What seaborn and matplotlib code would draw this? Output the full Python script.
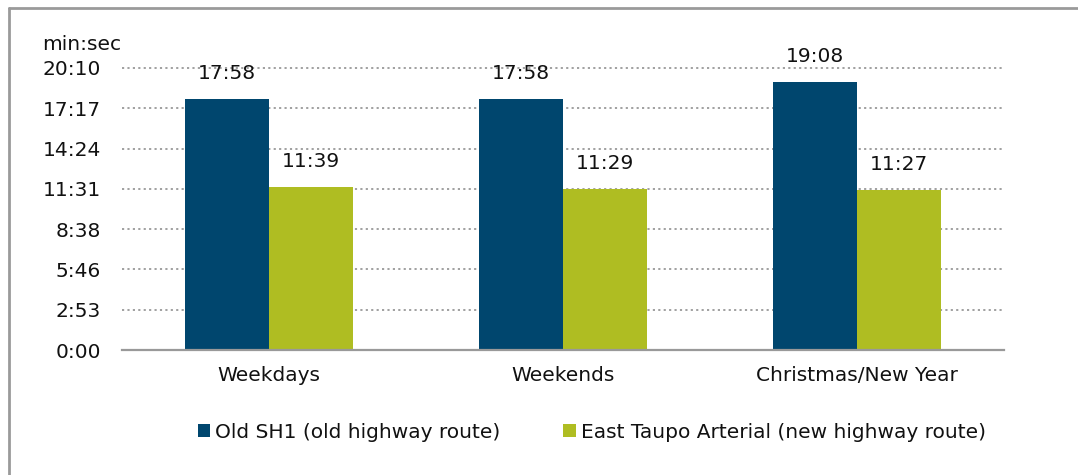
import matplotlib
matplotlib.use("Agg")
import matplotlib.pyplot as plt
import seaborn as sns
import pandas as pd
from matplotlib.patches import Patch
from matplotlib.lines import Line2D
from matplotlib.ticker import FixedLocator

categories = ["Weekdays", "Weekends", "Christmas/New Year"]
series_names = ["Old SH1 (old highway route)", "East Taupo Arterial (new highway route)"]
old_sh1 = ["17:58", "17:58", "19:08"]
east_taupo = ["11:39", "11:29", "11:27"]
tick_labels = ["0:00", "2:53", "5:46", "8:38", "11:31", "14:24", "17:17", "20:10"]
tick_step_days = 0.002  # Excel time units
colors = ["#00466E", "#AFBD22"]

def to_sec(s):
    m, sec = s.split(":")
    return int(m) * 60 + int(sec)

rows = []
for c, v in zip(categories, old_sh1):
    rows.append({"cat": c, "series": series_names[0], "sec": to_sec(v), "label": v})
for c, v in zip(categories, east_taupo):
    rows.append({"cat": c, "series": series_names[1], "sec": to_sec(v), "label": v})
df = pd.DataFrame(rows)

sns.set_theme(style="white")
plt.rcParams["font.family"] = ["DejaVu Sans"]
FS = 14.5
TXT = "#111111"

fig = plt.figure(figsize=(10.78, 4.75), dpi=100)
ax = fig.add_axes([122/1078, 1-350/475, (1004-122)/1078, (350-68)/475])

sns.barplot(data=df, x="cat", y="sec", hue="series", palette=colors,
            order=categories, hue_order=series_names, width=0.572,
            saturation=1, ax=ax, legend=False, edgecolor="none")

tick_secs = [i * tick_step_days * 86400 for i in range(len(tick_labels))]
ax.set_ylim(0, tick_secs[-1])
ax.yaxis.set_major_locator(FixedLocator(tick_secs))
ax.set_yticklabels(tick_labels, fontsize=FS, color=TXT)
ax.set_xlim(-0.5, len(categories) - 0.5)
ax.tick_params(axis="x", labelsize=FS, colors=TXT, pad=11.5, length=0)
ax.tick_params(axis="y", pad=15, length=0)
ax.set_xlabel("")
ax.set_ylabel("")

ax.grid(False)
for t in tick_secs[1:]:
    ax.axhline(t, color="#999999", linestyle=(0, (1.2, 1.8)), linewidth=1.3,
               zorder=0, clip_on=False)
ax.set_axisbelow(True)

for s in ["top", "right", "left"]:
    ax.spines[s].set_visible(False)
ax.spines["bottom"].set_color("#999999")
ax.spines["bottom"].set_linewidth(1.6)

for cont, labels in zip(ax.containers, [old_sh1, east_taupo]):
    ax.bar_label(cont, labels=labels, padding=11.5, fontsize=FS, color=TXT)

ax.text(42/1078, 1-44/475, "min:sec", transform=fig.transFigure, fontsize=FS,
        color=TXT, ha="left", va="center")

handles = [Patch(facecolor=c, edgecolor="none") for c in colors]
fig.legend(handles, series_names, loc="center", bbox_to_anchor=(0.549, 1-432/475),
           ncol=2, frameon=False, fontsize=FS, handlelength=0.62, handleheight=0.62,
           handletextpad=0.25, columnspacing=3.1, labelcolor=TXT)

# outer border (left and top visible)
fig.add_artist(Line2D([9/1078, 9/1078], [0, 1-8/475], transform=fig.transFigure,
                      color="#9a9a9a", linewidth=2))
fig.add_artist(Line2D([9/1078, 1], [1-8/475, 1-8/475], transform=fig.transFigure,
                      color="#9a9a9a", linewidth=2))

fig.savefig("out.png", dpi=100, facecolor="white")
